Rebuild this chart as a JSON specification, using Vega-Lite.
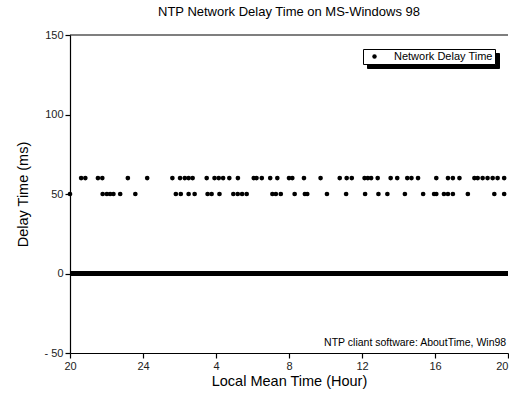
{
  "$schema": "https://vega.github.io/schema/vega-lite/v6.json",
  "autosize": {"type": "none"},
  "width": 438,
  "height": 318,
  "padding": {"left": 70, "top": 35, "right": 1, "bottom": 40},
  "background": "white",
  "config": {
    "font": "Liberation Sans",
    "view": {"stroke": null},
    "axis": {"grid": false, "domainColor": "black", "tickColor": "black", "labelColor": "#222", "labelFontSize": 11, "titleFontSize": 14.5, "titleFontWeight": "normal", "titleColor": "black", "tickSize": 5, "domainWidth": 1.2, "tickWidth": 1.2},
    "title": {"fontSize": 13, "fontWeight": "normal", "color": "black", "offset": 10}
  },
  "title": {"text": "NTP Network Delay Time on MS-Windows 98", "anchor": "middle"},
  "datasets": {
    "pts": [
      {"hour": 20.0, "delay": 50}, {"hour": 21.79, "delay": 50}, {"hour": 22.02, "delay": 50}, {"hour": 22.2, "delay": 50}, {"hour": 22.38, "delay": 50}, {"hour": 22.75, "delay": 50}, {"hour": 23.58, "delay": 50},
      {"hour": 25.8, "delay": 50}, {"hour": 26.07, "delay": 50}, {"hour": 26.5, "delay": 50}, {"hour": 26.83, "delay": 50}, {"hour": 27.54, "delay": 50}, {"hour": 27.76, "delay": 50}, {"hour": 28.19, "delay": 50}, {"hour": 28.95, "delay": 50}, {"hour": 29.19, "delay": 50}, {"hour": 29.43, "delay": 50}, {"hour": 29.68, "delay": 50},
      {"hour": 31.09, "delay": 50}, {"hour": 31.28, "delay": 50}, {"hour": 31.55, "delay": 50}, {"hour": 32.31, "delay": 50}, {"hour": 32.87, "delay": 50}, {"hour": 33.0, "delay": 50}, {"hour": 34.08, "delay": 50}, {"hour": 35.13, "delay": 50},
      {"hour": 36.17, "delay": 50}, {"hour": 36.9, "delay": 50}, {"hour": 37.39, "delay": 50}, {"hour": 38.35, "delay": 50}, {"hour": 39.35, "delay": 50}, {"hour": 39.95, "delay": 50}, {"hour": 40.07, "delay": 50}, {"hour": 40.49, "delay": 50}, {"hour": 40.71, "delay": 50}, {"hour": 40.98, "delay": 50}, {"hour": 41.8, "delay": 50}, {"hour": 43.25, "delay": 50}, {"hour": 43.79, "delay": 50},
      {"hour": 20.61, "delay": 60}, {"hour": 20.84, "delay": 60}, {"hour": 21.53, "delay": 60}, {"hour": 21.77, "delay": 60}, {"hour": 23.17, "delay": 60}, {"hour": 24.23, "delay": 60},
      {"hour": 25.61, "delay": 60}, {"hour": 26.03, "delay": 60}, {"hour": 26.29, "delay": 60}, {"hour": 26.5, "delay": 60}, {"hour": 26.72, "delay": 60}, {"hour": 27.49, "delay": 60}, {"hour": 27.92, "delay": 60}, {"hour": 28.15, "delay": 60}, {"hour": 28.39, "delay": 60}, {"hour": 28.73, "delay": 60}, {"hour": 29.2, "delay": 60},
      {"hour": 30.07, "delay": 60}, {"hour": 30.22, "delay": 60}, {"hour": 30.51, "delay": 60}, {"hour": 30.97, "delay": 60}, {"hour": 31.36, "delay": 60}, {"hour": 32.0, "delay": 60}, {"hour": 32.18, "delay": 60}, {"hour": 32.82, "delay": 60}, {"hour": 33.73, "delay": 60}, {"hour": 34.78, "delay": 60}, {"hour": 35.16, "delay": 60}, {"hour": 35.44, "delay": 60},
      {"hour": 36.14, "delay": 60}, {"hour": 36.32, "delay": 60}, {"hour": 36.5, "delay": 60}, {"hour": 36.86, "delay": 60}, {"hour": 37.57, "delay": 60}, {"hour": 37.93, "delay": 60}, {"hour": 38.48, "delay": 60}, {"hour": 38.71, "delay": 60}, {"hour": 39.07, "delay": 60},
      {"hour": 40.07, "delay": 60}, {"hour": 40.71, "delay": 60}, {"hour": 40.98, "delay": 60}, {"hour": 41.34, "delay": 60}, {"hour": 42.16, "delay": 60}, {"hour": 42.34, "delay": 60}, {"hour": 42.61, "delay": 60}, {"hour": 42.88, "delay": 60}, {"hour": 43.16, "delay": 60}, {"hour": 43.43, "delay": 60}, {"hour": 43.79, "delay": 60}
    ]
  },
  "layer": [
    {
      "data": {"values": [{"level": 150}]},
      "mark": {"type": "rule", "color": "black", "strokeWidth": 1.2},
      "encoding": {"y": {"field": "level", "type": "quantitative"}}
    },
    {
      "data": {"values": [{"level": 0}]},
      "mark": {"type": "rule", "color": "black", "strokeWidth": 5},
      "encoding": {"y": {"field": "level", "type": "quantitative"}}
    },
    {
      "data": {"name": "pts"},
      "mark": {"type": "point", "filled": true, "size": 22, "opacity": 1},
      "encoding": {
        "x": {
          "field": "hour", "type": "quantitative",
          "scale": {"domain": [20, 44], "nice": false, "zero": false},
          "axis": {"values": [20, 24, 28, 32, 36, 40, 44], "title": "Local Mean Time (Hour)", "titlePadding": 3,
            "labelExpr": "datum.value > 24 ? datum.value - 24 : datum.value",
            "labelAlign": {"expr": "datum.value == 44 ? 'right' : 'center'"}}
        },
        "y": {
          "field": "delay", "type": "quantitative",
          "scale": {"domain": [-50, 150], "nice": false, "zero": false},
          "axis": {"values": [-50, 0, 50, 100, 150], "title": "Delay Time (ms)", "titlePadding": 14,
            "labelExpr": "datum.value < 0 ? '- ' + abs(datum.value) : datum.label"}
        },
        "color": {
          "datum": "Network Delay Time", "type": "nominal",
          "scale": {"range": ["black"]},
          "legend": {"title": null, "orient": "none", "legendX": 293, "legendY": 14, "zindex": 2,
            "strokeColor": "black", "fillColor": "white", "padding": 2, "labelFontSize": 11, "labelColor": "black",
            "symbolType": "circle", "symbolSize": 20, "symbolOffset": 4, "labelOffset": 14, "symbolStrokeWidth": 0}
        },
        "shape": {
          "datum": "shadow", "type": "nominal",
          "scale": {"range": ["circle"]},
          "legend": {"title": null, "orient": "none", "legendX": 297, "legendY": 18, "zindex": 1,
            "labelExpr": "'\u2003\u2003\u2003\u2003\u2003\u2003\u2003\u2003\u2003'",
            "strokeColor": "black", "fillColor": "black", "padding": 2, "labelFontSize": 11, "labelColor": "black",
            "symbolSize": 20, "symbolOffset": 4, "labelOffset": 113, "symbolFillColor": "black", "symbolStrokeColor": "black"}
        }
      }
    },
    {
      "data": {"values": [{"hour": 43.9, "delay": -47, "note": "NTP cliant software: AboutTime, Win98"}]},
      "mark": {"type": "text", "align": "right", "baseline": "bottom", "fontSize": 10.5, "color": "black"},
      "encoding": {"x": {"field": "hour", "type": "quantitative"}, "y": {"field": "delay", "type": "quantitative"}, "text": {"field": "note"}}
    }
  ]
}
